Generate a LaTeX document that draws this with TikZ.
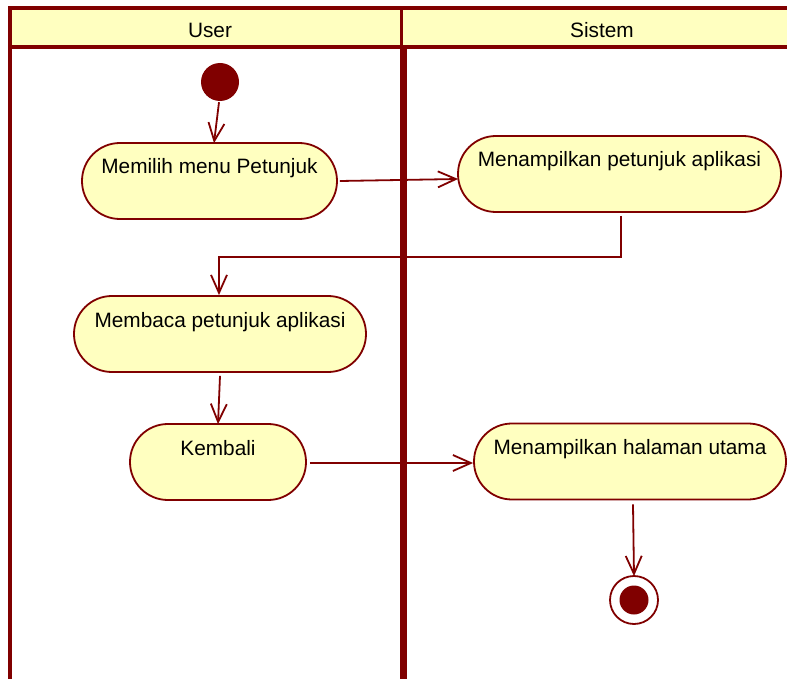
\documentclass[tikz,border=0pt]{standalone}
\usepackage{fontspec}
\setmainfont{Liberation Sans}
\usetikzlibrary{arrows.meta,calc}
\definecolor{dred}{HTML}{800000}
\definecolor{lyel}{HTML}{FFFFC0}
\tikzset{
  act/.style={draw=dred, line width=1.8pt, fill=lyel, rounded corners=37.9pt,
    inner xsep=0pt, inner ysep=0pt, minimum height=76pt,
    text height=31pt, text depth=45pt, font=\fontsize{20.8}{24}\selectfont, anchor=center},
  flow/.style={draw=dred, line width=1.8pt, -{Straight Barb[length=18pt,width=16pt]}},
  lanehead/.style={font=\fontsize{20.8}{24}\selectfont, inner sep=0pt}
}
\begin{document}
\begin{tikzpicture}[x=1pt,y=-1pt]
\useasboundingbox (0,0) rectangle (787,679);
% swimlane frame
\fill[lyel] (12,10) rectangle (787,45);
\fill[dred] (8,6) rectangle (12,679);
\fill[dred] (8,6) rectangle (787,10);
\fill[dred] (8,45) rectangle (787,49);
\fill[dred] (400,10) rectangle (403,45);
\fill[dred] (400,49) rectangle (407,679);
\node[lanehead] (hu) at (210,30) {User};
\node[lanehead] (hs) at (602,30) {Sistem};
% nodes
\node[circle, fill=dred, minimum size=38pt, inner sep=0pt] (init) at (220,82) {};
\node[act, minimum width=255pt] (n1) at (209.5,181) {Memilih menu Petunjuk};
\node[act, minimum width=323pt] (n2) at (619.5,174) {Menampilkan petunjuk aplikasi};
\node[act, minimum width=292pt] (n3) at (220,334) {Membaca petunjuk aplikasi};
\node[act, minimum width=176pt] (n4) at (218,462) {Kembali};
\node[act, minimum width=312pt] (n5) at (630,461.5) {Menampilkan halaman utama};
\node[circle, draw=dred, line width=1.8pt, fill=white, minimum size=48pt, inner sep=0pt] (fin) at (634,600) {};
\fill[dred] (fin.center) circle (14.5pt);
% connectors
\draw[flow] ($(init.south)+(-1,1)$) -- ($(n1.north)+(4.5,1)$);
\draw[flow] ($(n1.east)+(2,0)$) -- ($(n2.west)+(1,5)$);
\coordinate (bend) at (621,257);
\draw[flow] ($(n2.south)+(1.5,3)$) -- (bend) -| ($(n3.north)+(-1,0)$);
\draw[flow] ($(n3.south)+(0,3)$) -- ($(n4.north)+(0,1)$);
\draw[flow] ($(n4.east)+(3,1)$) -- ($(n5.west)+(0,1.5)$);
\draw[flow] ($(n5.south)+(3,4)$) -- ($(fin.north)+(0,1)$);
\end{tikzpicture}
\end{document}
